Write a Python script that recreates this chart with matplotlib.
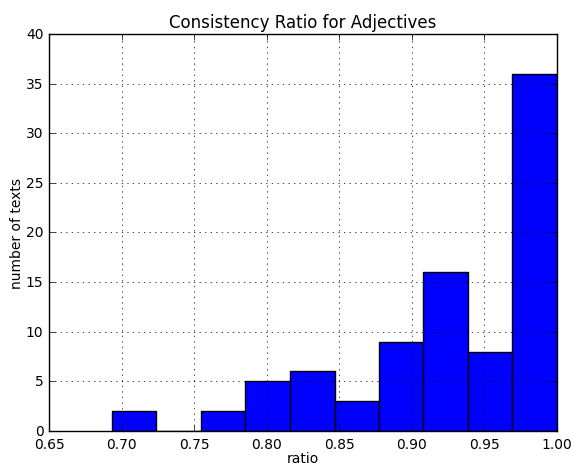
import numpy as np
import matplotlib
matplotlib.use('Agg')
import matplotlib.pyplot as plt

plt.style.use('classic')

# histogram bins (ratio) and counts
bin_edges = [0.6933, 0.7240, 0.7547, 0.7853, 0.8160, 0.8467,
             0.8773, 0.9080, 0.9387, 0.9693, 1.0000]
counts = [2, 0, 2, 5, 6, 3, 9, 16, 8, 36]

centers = [(a + b) / 2 for a, b in zip(bin_edges[:-1], bin_edges[1:])]

fig = plt.figure(figsize=(5.74, 4.64), dpi=100, facecolor='white')
ax = fig.add_axes([0.0854, 0.069, 0.8850, 0.8556])

ax.hist(centers, bins=bin_edges, weights=counts, color='b', edgecolor='k')

ax.set_xlim(0.65, 1.0)
ax.set_ylim(0, 40)
ax.set_xticks(np.arange(0.65, 1.001, 0.05))
ax.set_xticklabels(['%.2f' % v for v in np.arange(0.65, 1.001, 0.05)])
ax.grid(True)
ax.set_title('Consistency Ratio for Adjectives', fontsize=12)
ax.set_xlabel('ratio', fontsize=10, labelpad=0)
ax.set_ylabel('number of texts', fontsize=10, labelpad=1)
ax.tick_params(labelsize=10)

fig.savefig('out.png', dpi=100, facecolor='white')
